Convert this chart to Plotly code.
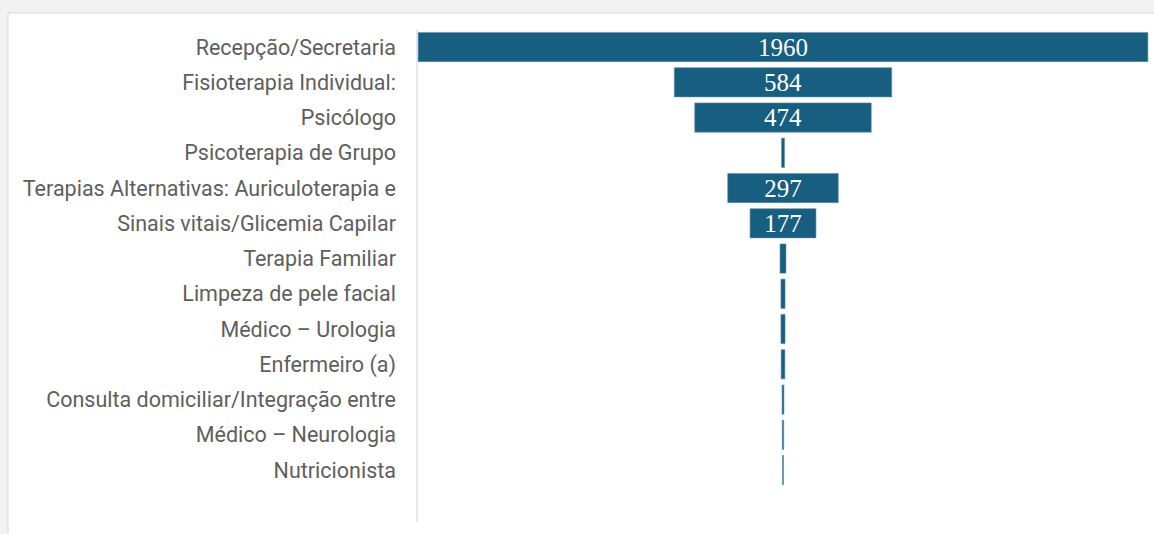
import plotly.graph_objects as go

categories = [
    "Recepção/Secretaria",
    "Fisioterapia Individual:",
    "Psicólogo",
    "Psicoterapia de Grupo",
    "Terapias Alternativas: Auriculoterapia e",
    "Sinais vitais/Glicemia Capilar",
    "Terapia Familiar",
    "Limpeza de pele facial",
    "Médico – Urologia",
    "Enfermeiro (a)",
    "Consulta domiciliar/Integração entre",
    "Médico – Neurologia",
    "Nutricionista",
]
values = [1960, 584, 474, 8, 297, 177, 16, 11, 11, 10, 5, 4, 3]
labels = [str(v) if v >= 100 else "" for v in values]

W, H = 1154, 534
px_left, px_right = 417, 1149
px_top, px_bot = 29.4, 522

fig = go.Figure(go.Funnel(
    y=categories,
    x=values,
    text=labels,
    textinfo="text",
    textposition="inside",
    constraintext="none",
    insidetextfont=dict(family="Liberation Serif", size=25, color="white"),
    marker=dict(color="#175e80", line=dict(color="#5f8fa8", width=0.6)),
    connector=dict(visible=False),
    width=0.83,
    hoverinfo="y+x",
))

fig.update_layout(
    width=W, height=H,
    margin=dict(l=0, r=0, t=0, b=0),
    paper_bgcolor="#f2f2f2",
    plot_bgcolor="white",
    showlegend=False,
    xaxis=dict(
        domain=[px_left / W, px_right / W],
        range=[-983, 983],
        visible=False,
        automargin=False,
    ),
    yaxis=dict(
        domain=[1 - px_bot / H, 1 - px_top / H],
        range=[12.5 + (px_bot - px_top) / 35.25 - 13, -0.5],
        automargin=False,
        showgrid=False,
        zeroline=False,
        showline=False,
        ticks="",
        ticklabelstandoff=20,
        tickfont=dict(family="Roboto", size=21.5, color="#5e5e5e"),
    ),
    shapes=[
        dict(type="rect", xref="paper", yref="paper",
             x0=8 / W, x1=1.01, y0=-0.01, y1=1 - 13 / H,
             fillcolor="white", line=dict(color="#d9d9d9", width=1), layer="below"),
        dict(type="line", xref="paper", yref="paper",
             x0=px_left / W, x1=px_left / W, y0=1 - px_bot / H, y1=1 - px_top / H,
             line=dict(color="#d9d9d9", width=1.2)),
    ],
)

fig.write_html(
    "out.html",
    config={"displayModeBar": False},
    post_script="document.body.style.margin='0';document.body.style.background='#f2f2f2';",
)
